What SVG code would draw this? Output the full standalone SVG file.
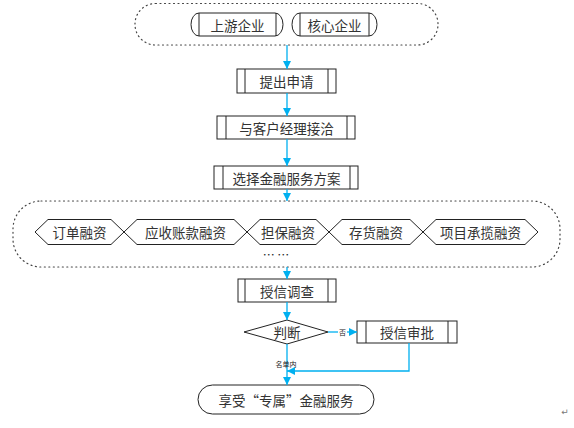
<svg xmlns="http://www.w3.org/2000/svg" width="574" height="428" viewBox="0 0 574 428">
<style>
.t{font-family:"Noto Sans CJK SC","Noto Sans",sans-serif;font-size:13.5px;fill:#333;text-anchor:middle;dominant-baseline:central}
.s{font-family:"Noto Sans CJK SC","Noto Sans",sans-serif;font-size:7px;fill:#222;text-anchor:middle;dominant-baseline:central}
.b{fill:#fff;stroke:#222;stroke-width:1}
.d{fill:none;stroke:#444;stroke-width:1.2;stroke-dasharray:1 3.5;stroke-linecap:round}
.c{fill:none;stroke:#00B0F0;stroke-width:1.3}
</style>
<defs>
<marker id="ah" viewBox="0 0 10 10" refX="10" refY="5" markerWidth="8" markerHeight="8" markerUnits="userSpaceOnUse" orient="auto">
<path d="M0,0 L10,5 L0,10 z" fill="#00B0F0"/>
</marker>
</defs>
<rect width="574" height="428" fill="#fff"/>

<g id="group-top">
<rect class="d" x="135" y="3.5" width="303" height="41.5" rx="20.5"/>
</g>
<g id="node-shangyou">
<rect class="b" x="191" y="13" width="92" height="23" rx="8" ry="11.5"/>
<line class="b" x1="199" y1="13" x2="199" y2="36"/>
<line class="b" x1="276" y1="13" x2="276" y2="36"/>
<text class="t" x="237.5" y="24.5">上游企业</text>
</g>
<g id="node-hexin">
<rect class="b" x="292" y="13" width="85" height="23" rx="8" ry="11.5"/>
<line class="b" x1="300" y1="13" x2="300" y2="36"/>
<line class="b" x1="369" y1="13" x2="369" y2="36"/>
<text class="t" x="334.5" y="24.5">核心企业</text>
</g>

<g id="node-tichu">
<rect class="b" x="237" y="69" width="99" height="24"/>
<line class="b" x1="245" y1="69" x2="245" y2="93"/>
<line class="b" x1="328" y1="69" x2="328" y2="93"/>
<text class="t" x="286.5" y="81">提出申请</text>
</g>
<g id="node-jieqia">
<rect class="b" x="217" y="116" width="138" height="23"/>
<line class="b" x1="226" y1="116" x2="226" y2="139"/>
<line class="b" x1="347" y1="116" x2="347" y2="139"/>
<text class="t" x="286.5" y="127.5">与客户经理接洽</text>
</g>
<g id="node-xuanze">
<rect class="b" x="214" y="166" width="144" height="23"/>
<line class="b" x1="223" y1="166" x2="223" y2="189"/>
<line class="b" x1="350" y1="166" x2="350" y2="189"/>
<text class="t" x="286.5" y="177.5">选择金融服务方案</text>
</g>

<g id="group-financing">
<rect class="d" x="13" y="201" width="547" height="66" rx="28"/>
<text class="t" x="276" y="254" style="font-size:12px;fill:#222">… …</text>
</g>
<g id="node-dingdan">
<polygon class="b" points="35,232 48,219.5 111,219.5 124,232 111,244.5 48,244.5"/>
<text class="t" x="79.5" y="232">订单融资</text>
</g>
<g id="node-yingshou">
<polygon class="b" points="124,232 137,219.5 234,219.5 247,232 234,244.5 137,244.5"/>
<text class="t" x="185.5" y="232">应收账款融资</text>
</g>
<g id="node-danbao">
<polygon class="b" points="247,232 260,219.5 316,219.5 329,232 316,244.5 260,244.5"/>
<text class="t" x="288" y="232">担保融资</text>
</g>
<g id="node-cunhuo">
<polygon class="b" points="329,232 342,219.5 410,219.5 423,232 410,244.5 342,244.5"/>
<text class="t" x="376" y="232">存货融资</text>
</g>
<g id="node-xiangmu">
<polygon class="b" points="423,232 436,219.5 525,219.5 538,232 525,244.5 436,244.5"/>
<text class="t" x="480.5" y="232">项目承揽融资</text>
</g>

<g id="node-diaocha">
<rect class="b" x="238" y="279" width="98" height="23"/>
<line class="b" x1="245" y1="279" x2="245" y2="302"/>
<line class="b" x1="328" y1="279" x2="328" y2="302"/>
<text class="t" x="287" y="290.5">授信调查</text>
</g>
<g id="node-panduan">
<polygon class="b" points="244,332 287,320 328,332 287,344"/>
<text class="t" x="287" y="332">判断</text>
</g>
<g id="node-shenpi">
<rect class="b" x="357" y="321" width="100" height="22"/>
<line class="b" x1="366" y1="321" x2="366" y2="343"/>
<line class="b" x1="448" y1="321" x2="448" y2="343"/>
<text class="t" x="407" y="332">授信审批</text>
</g>
<g id="node-xiangshou">
<rect class="b" x="198" y="385" width="176" height="29" rx="14.5"/>
<text class="t" x="286" y="399.5">享受“专属”金融服务</text>
</g>

<g id="connectors">
<line class="c" x1="287" y1="45" x2="287" y2="69" marker-end="url(#ah)"/>
<line class="c" x1="287" y1="93" x2="287" y2="116" marker-end="url(#ah)"/>
<line class="c" x1="287" y1="139" x2="287" y2="166" marker-end="url(#ah)"/>
<line class="c" x1="287" y1="189" x2="287" y2="201" marker-end="url(#ah)"/>
<line class="c" x1="287" y1="267" x2="287" y2="279" marker-end="url(#ah)"/>
<line class="c" x1="287" y1="302" x2="287" y2="320" marker-end="url(#ah)"/>
<line class="c" x1="328" y1="332" x2="357" y2="332" marker-end="url(#ah)"/>
<rect x="338" y="327" width="9" height="10" fill="#fff"/>
<text class="s" x="342.5" y="332">否</text>
<line class="c" x1="287" y1="344" x2="287" y2="385" marker-end="url(#ah)"/>
<text class="s" x="286" y="364">名单内</text>
<polyline class="c" points="409,343 409,371 287,371" marker-end="url(#ah)"/>
</g>
<text x="565" y="415" style="font-family:'DejaVu Sans',sans-serif;font-size:9px;fill:#777;text-anchor:middle">↵</text>
</svg>
